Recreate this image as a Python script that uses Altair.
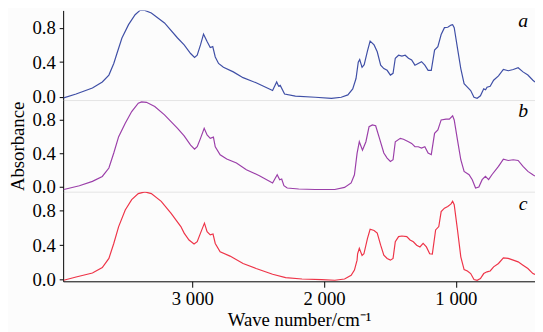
import altair as alt
import pandas as pd

# Sample a (blue)
wn_a = [3976, 3882, 3758, 3683, 3633, 3596, 3572, 3534, 3484, 3434, 3397, 3360, 3311, 3211,
        3112, 3062, 3013, 2983, 2963, 2938, 2915, 2888, 2864, 2845, 2826, 2801, 2764, 2689,
        2615, 2516, 2391, 2360, 2345, 2333, 2300, 2218, 2068, 1944, 1870, 1820, 1783, 1758,
        1741, 1730, 1712, 1696, 1671, 1651, 1621, 1597, 1571, 1547, 1522, 1497, 1477, 1460,
        1435, 1410, 1385, 1360, 1336, 1311, 1286, 1261, 1236, 1211, 1187, 1162, 1137, 1112,
        1087, 1062, 1037, 1025, 1013, 988, 963, 938, 913, 888, 863, 839, 814, 789, 775, 764,
        740, 714, 677, 640, 603, 565, 528, 491, 454, 416, 400]
ab_a = [-0.015, 0.03, 0.10, 0.17, 0.25, 0.385, 0.50, 0.68, 0.835, 0.95, 1.0, 1.0, 0.97, 0.855,
        0.68, 0.60, 0.50, 0.455, 0.48, 0.60, 0.725, 0.64, 0.57, 0.58, 0.46, 0.385, 0.34, 0.287,
        0.22, 0.16, 0.07, 0.17, 0.12, 0.13, 0.03, 0.005, -0.007, -0.02, -0.007, 0.02, 0.09, 0.21,
        0.40, 0.43, 0.34, 0.37, 0.53, 0.645, 0.60, 0.52, 0.365, 0.325, 0.305, 0.25, 0.27, 0.445,
        0.48, 0.47, 0.48, 0.445, 0.425, 0.365, 0.385, 0.405, 0.365, 0.305, 0.305, 0.54, 0.58, 0.72,
        0.80, 0.805, 0.83, 0.835, 0.80, 0.56, 0.325, 0.15, 0.11, 0.07, -0.007, -0.02, 0.01, 0.09, 0.08, 0.11,
        0.12, 0.19, 0.24, 0.315, 0.30, 0.315, 0.335, 0.287, 0.25, 0.19, 0.17]

# Sample b (purple)
wn_b = [3976, 3959, 3857, 3758, 3683, 3633, 3596, 3559, 3509, 3460, 3410, 3385, 3348, 3285,
        3211, 3112, 3062, 3013, 2983, 2963, 2938, 2910, 2888, 2864, 2840, 2826, 2789, 2739,
        2665, 2590, 2491, 2391, 2356, 2337, 2322, 2305, 2280, 2193, 2068, 1919, 1845, 1795,
        1770, 1750, 1733, 1709, 1683, 1659, 1634, 1609, 1584, 1547, 1522, 1497, 1477, 1460,
        1422, 1398, 1360, 1336, 1311, 1286, 1261, 1236, 1211, 1187, 1162, 1137, 1112, 1075,
        1050, 1025, 1013, 988, 963, 938, 900, 876, 851, 826, 801, 776, 752, 727, 677, 640,
        603, 565, 528, 491, 454, 416, 400]
ab_b = [-0.03, -0.024, 0.015, 0.067, 0.126, 0.226, 0.405, 0.60, 0.76, 0.90, 1.0, 1.015, 1.01, 0.96,
        0.86, 0.70, 0.61, 0.50, 0.45, 0.48, 0.58, 0.70, 0.62, 0.58, 0.595, 0.48, 0.385, 0.333,
        0.286, 0.206, 0.135, 0.048, 0.146, 0.087, 0.095, 0.015, -0.012, -0.024, -0.03, -0.03, -0.005, 0.048,
        0.146, 0.40, 0.54, 0.44, 0.54, 0.72, 0.74, 0.73, 0.60, 0.405, 0.345, 0.305, 0.325, 0.54,
        0.58, 0.57, 0.54, 0.52, 0.48, 0.48, 0.465, 0.48, 0.405, 0.385, 0.64, 0.68, 0.80, 0.81,
        0.81, 0.85, 0.80, 0.56, 0.325, 0.186, 0.146, 0.087, -0.012, 0.0, 0.087, 0.126, 0.087, 0.146, 0.245, 0.333,
        0.316, 0.325, 0.316, 0.245, 0.186, 0.146, 0.13]

# Sample c (red)
wn_c = [3976, 3882, 3758, 3683, 3633, 3596, 3559, 3509, 3460, 3410, 3360, 3311, 3236, 3161,
        3087, 3062, 3025, 2987, 2963, 2938, 2908, 2888, 2864, 2843, 2826, 2789, 2714, 2615,
        2516, 2391, 2292, 2168, 2019, 1919, 1845, 1795, 1770, 1750, 1746, 1733, 1712, 1698,
        1671, 1651, 1621, 1597, 1571, 1547, 1522, 1497, 1477, 1460, 1435, 1410, 1373, 1348,
        1323, 1298, 1273, 1249, 1224, 1199, 1179, 1154, 1130, 1112, 1087, 1062, 1037, 1025,
        1013, 988, 963, 938, 913, 888, 863, 839, 814, 789, 764, 740, 714, 677, 640, 603,
        565, 528, 491, 454, 416, 400]
ab_c = [-0.008, 0.03, 0.077, 0.14, 0.246, 0.42, 0.616, 0.81, 0.93, 1.0, 1.02, 1.0, 0.91, 0.77,
        0.616, 0.54, 0.46, 0.413, 0.44, 0.54, 0.656, 0.557, 0.52, 0.53, 0.42, 0.323, 0.273, 0.187,
        0.129, 0.062, 0.023, 0.007, 0.0, -0.008, 0.007, 0.05, 0.11, 0.226, 0.30, 0.363, 0.28, 0.30,
        0.48, 0.585, 0.57, 0.54, 0.40, 0.285, 0.246, 0.226, 0.246, 0.44, 0.5, 0.507, 0.5, 0.46,
        0.44, 0.40, 0.38, 0.42, 0.38, 0.30, 0.296, 0.577, 0.616, 0.79, 0.83, 0.85, 0.88, 0.91,
        0.87, 0.577, 0.265, 0.117, 0.10, 0.07, 0.0, -0.008, 0.012, 0.07, 0.09, 0.10, 0.148, 0.187, 0.253, 0.246,
        0.226, 0.206, 0.167, 0.129, 0.07, 0.06]

samples = ["a", "b", "c"]
colors = ["#3f4fa6", "#9b3fa9", "#ee3448"]
y_domains = [[-0.04, 1.0], [-0.056, 1.037], [-0.02, 1.022]]
heights = [91, 93, 91]
y_ticks = [0.0, 0.4, 0.8]
x_ticks = [3000, 2000, 1000]
x_domain = [3980, 400]

series = {"a": (wn_a, ab_a), "b": (wn_b, ab_b), "c": (wn_c, ab_c)}

FONT = "Liberation Serif"
W = 479


def panel(i):
    s = samples[i]
    wn, ab = series[s]
    df = pd.DataFrame({"wn": wn, "ab": ab})
    last = i == len(samples) - 1
    if last:
        xaxis = alt.Axis(values=x_ticks, labelExpr="replace(format(datum.value, ','), ',', ' ')",
                         tickSize=6, tickColor="black", domainColor="black", labelFont=FONT,
                         labelFontSize=19, labelColor="black", labelPadding=3, grid=False,
                         title="Wave number/cm\u207b\u00b9", titleFont=FONT, titleFontSize=19,
                         titleFontWeight="normal", titleColor="black", titlePadding=2)
    else:
        xaxis = alt.Axis(labels=False, ticks=False, title=None, grid=False,
                         domainColor="#e4e4e4", domainWidth=1)
    yaxis = alt.Axis(values=y_ticks, format=".1f", tickSize=4, tickColor="black",
                     domainColor="black", labelFont=FONT, labelFontSize=19, labelColor="black",
                     labelPadding=4, grid=False,
                     title="Absorbance" if i == 1 else None, titleFont=FONT, titleFontSize=19,
                     titleFontWeight="normal", titleColor="black", titlePadding=5)
    line = alt.Chart(df).mark_line(color=colors[i], strokeWidth=1.2, clip=True).encode(
        x=alt.X("wn:Q", scale=alt.Scale(domain=x_domain, nice=False, zero=False), axis=xaxis),
        y=alt.Y("ab:Q", scale=alt.Scale(domain=y_domains[i], nice=False, zero=False), axis=yaxis),
        order=alt.Order("wn:Q", sort="descending"),
    )
    lab = alt.Chart(pd.DataFrame({"t": [s]})).mark_text(
        font=FONT, fontSize=20, fontStyle="italic", color="black", align="center",
        baseline="middle").encode(
        text="t:N", x=alt.value(W - 12), y=alt.value(11 if i < 2 else 13))
    return alt.layer(line, lab).properties(width=W, height=heights[i])


chart = alt.vconcat(*[panel(i) for i in range(3)], spacing=0, bounds="flush").properties(
    background="#fcfcfc", padding={"left": 0, "top": 0, "right": 0, "bottom": 0}
).configure_view(stroke=None)

chart.save("out.html", embed_options={"renderer": "svg", "actions": False})
